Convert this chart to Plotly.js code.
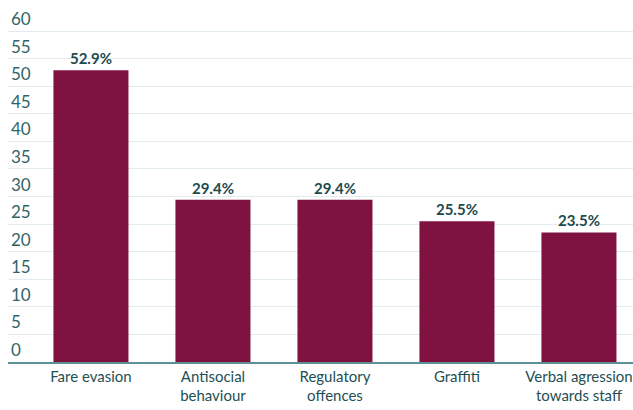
<!DOCTYPE html>
<html><head><meta charset="utf-8">
<script src="https://cdn.plot.ly/plotly-3.0.1.min.js"></script>
<style>html,body{margin:0;padding:0;background:#fff}#chart{width:633px;height:410px}</style>
</head><body><div id="chart"></div>
<script>
const categories = ["Fare evasion", "Antisocial<br>behaviour", "Regulatory<br>offences", "Graffiti", "Verbal agression<br>towards staff"];
const values = [52.9, 29.4, 29.4, 25.5, 23.5];
const valueLabels = ["52.9%", "29.4%", "29.4%", "25.5%", "23.5%"];
const yTicks = [0, 5, 10, 15, 20, 25, 30, 35, 40, 45, 50, 55, 60];

const font = "Lato, 'Open Sans', sans-serif";
Plotly.newPlot('chart', [{
  type: 'bar',
  x: categories,
  y: values,
  text: valueLabels,
  textposition: 'outside',
  cliponaxis: false,
  textfont: {family: font, size: 15, color: '#1d4a4e', weight: 'bold'},
  marker: {color: '#7f1240', line: {width: 0}},
  hoverinfo: 'none'
}], {
  width: 633, height: 410,
  margin: {l: 8, r: 0, t: 30, b: 48},
  paper_bgcolor: '#fff', plot_bgcolor: '#fff',
  bargap: 0.385,
  showlegend: false,
  xaxis: {
    range: [-0.68, 4.443],
    tickfont: {family: font, size: 15, color: '#1f4f54'},
    showline: true, linecolor: '#5e8f92', linewidth: 1.5,
    showgrid: false, ticks: '', fixedrange: true
  },
  yaxis: {
    range: [0, 60.2],
    tickvals: yTicks,
    ticktext: yTicks.map(String),
    ticklabelposition: 'inside top',
    ticklabeloverflow: 'allow',
    tickfont: {family: font, size: 17, color: '#2f6468'},
    showgrid: true, gridcolor: '#e3ecec', gridwidth: 1,
    zeroline: false, showline: false, ticks: '', fixedrange: true
  }
}, {displayModeBar: false, staticPlot: true});
</script></body></html>
